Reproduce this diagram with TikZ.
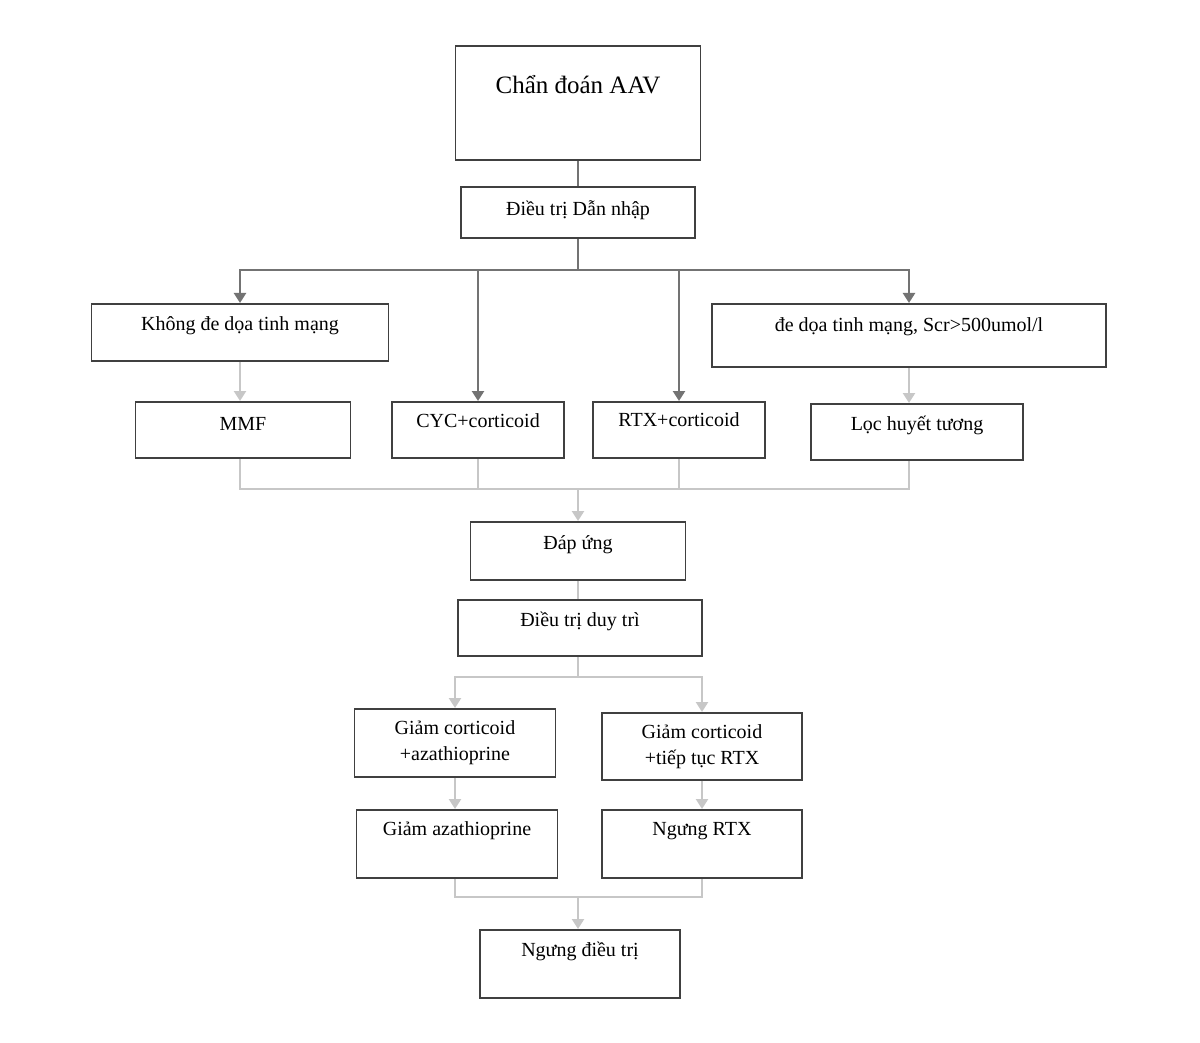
\documentclass[tikz,border=0pt]{standalone}
\usepackage{fontspec}
\setmainfont{Liberation Serif}
\usetikzlibrary{arrows.meta}

\tikzset{
  box/.style={draw=black!75, line width=1.8pt, anchor=north, inner xsep=0pt, inner ysep=0pt,
    text=black, font=\fontsize{20}{26}\selectfont},
  darkline/.style={draw=black!55, line width=2.4pt},
  lightline/.style={draw=black!22, line width=2.4pt},
  tip/.style={-{Triangle[length=10pt,width=12pt]}},
}

\begin{document}
\begin{tikzpicture}[x=1pt, y=-1pt]
\useasboundingbox (0,0) rectangle (1200,1043);

\node [box, minimum width=245, text height=48, text depth=66, font=\fontsize{25}{30}\selectfont] (diag) at (578,45) {Chẩn đoán AAV};
\node [box, minimum width=234, text height=29, text depth=22] (induct) at (578,186) {Điều trị Dẫn nhập};
\node [box, minimum width=297, text height=27, text depth=30] (nolife) at (240,303) {Không đe dọa tinh mạng};
\node [box, minimum width=394, text height=28, text depth=35] (life) at (909,303) {đe dọa tinh mạng, Scr>500umol/l};
\node [box, minimum width=215, text height=29, text depth=27] (mmf) at (243,401) {MMF};
\node [box, minimum width=172, text height=26, text depth=30] (cyc) at (478,401) {CYC+corticoid};
\node [box, minimum width=172, text height=25, text depth=31] (rtx) at (679,401) {RTX+corticoid};
\node [box, minimum width=212, text height=27, text depth=29] (plex) at (917,403) {Lọc huyết tương};
\node [box, minimum width=215, text height=28, text depth=30] (resp) at (578,521) {Đáp ứng};
\node [box, minimum width=244, text height=27, text depth=29] (maint) at (580,599) {Điều trị duy trì};
\node [box, minimum width=201, minimum height=68, align=center] (azared) at (455,708) {Giảm corticoid\\+azathioprine};
\node [box, minimum width=200, minimum height=67, align=center] (rtxcont) at (702,712) {Giảm corticoid\\+tiếp tục RTX};
\node [box, minimum width=201, text height=26, text depth=42] (azastop) at (457,809) {Giảm azathioprine};
\node [box, minimum width=200, text height=26, text depth=42] (rtxstop) at (702,809) {Ngưng RTX};
\node [box, minimum width=200, text height=27, text depth=41] (stop) at (580,929) {Ngưng điều trị};

\coordinate (fork) at (578,270);
\coordinate (join) at (578,489);
\coordinate (fork2) at (578,677);
\coordinate (join2) at (578,897);

% induction branches
\draw[darkline] (diag) -- (induct);
\draw[darkline] (induct) -- (fork);
\draw[darkline, tip] (fork) -| (nolife);
\draw[darkline, tip] (fork) -| (life);
\draw[darkline, tip] (fork -| cyc) -- (cyc);
\draw[darkline, tip] (fork -| rtx) -- (rtx);
\draw[lightline, tip] (nolife.south) -- (nolife.south |- mmf.north);
\draw[lightline, tip] (life.south) -- (life.south |- plex.north);

% back to response
\draw[lightline] (mmf.south -| nolife) |- (join) -| (life |- plex.south);
\draw[lightline] (cyc) -- (join -| cyc);
\draw[lightline] (rtx) -- (join -| rtx);
\draw[lightline, tip] (join) -- (resp);
\draw[lightline] (resp) -- (resp |- maint.north);

% maintenance
\draw[lightline] (maint.south -| fork2) -- (fork2);
\draw[lightline, tip] (fork2) -| (azared);
\draw[lightline, tip] (fork2) -| (rtxcont);
\draw[lightline, tip] (azared.south) -- (azared.south |- azastop.north);
\draw[lightline, tip] (rtxcont.south) -- (rtxcont.south |- rtxstop.north);
\draw[lightline] (azastop.south -| azared) |- (join2) -| (rtxstop);
\draw[lightline, tip] (join2) -- (join2 |- stop.north);
\end{tikzpicture}
\end{document}
